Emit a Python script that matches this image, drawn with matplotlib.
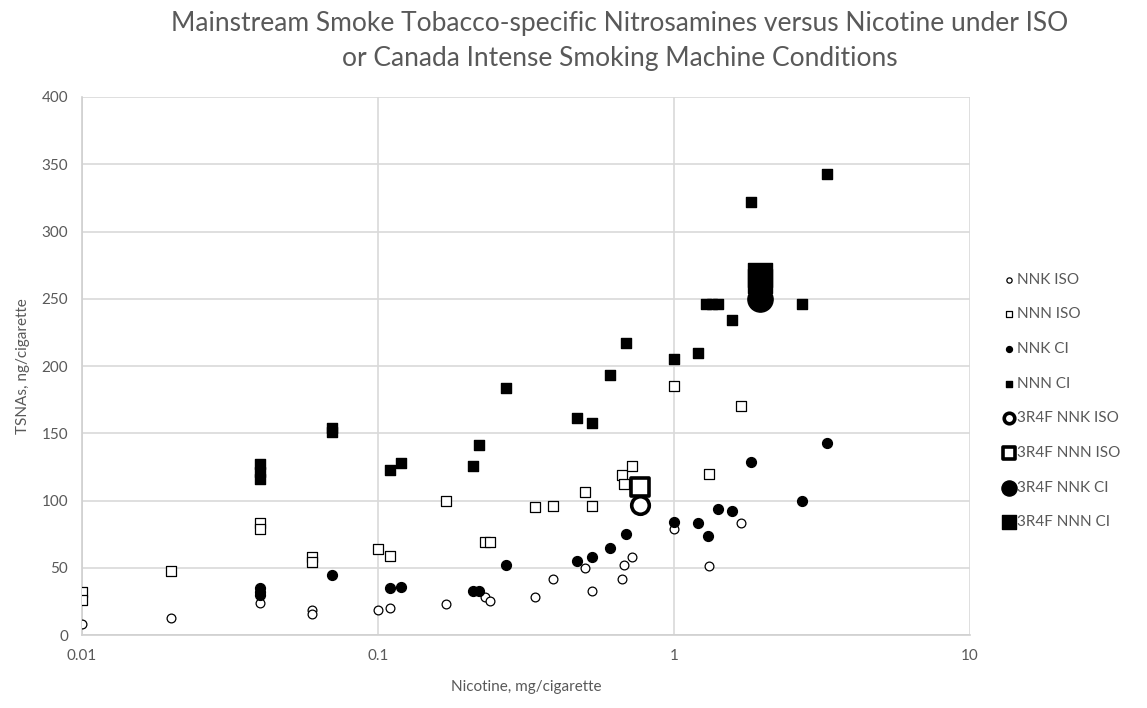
import matplotlib
matplotlib.use("Agg")
import matplotlib.pyplot as plt
from matplotlib.ticker import FixedLocator, FixedFormatter, NullLocator

plt.rcParams['font.family'] = ['Lato', 'DejaVu Sans']

# nicotine (mg/cig) and TSNA (ng/cig)
nnk_iso_x = [0.01, 0.02, 0.04, 0.06, 0.06, 0.1, 0.11, 0.17, 0.23, 0.24, 0.34, 0.39,
             0.5, 0.53, 0.67, 0.68, 0.72, 1.0, 1.31, 1.68]
nnk_iso_y = [8, 13, 24, 19, 16, 19, 20, 23, 28, 25, 28, 42, 50, 33, 42, 52, 58, 79, 51, 83]

nnn_iso_x = [0.01, 0.01, 0.02, 0.04, 0.04, 0.06, 0.06, 0.1, 0.11, 0.17, 0.23, 0.24,
             0.34, 0.39, 0.5, 0.53, 0.67, 0.68, 0.72, 1.0, 1.31, 1.68]
nnn_iso_y = [32, 26, 48, 83, 79, 58, 54, 64, 59, 100, 69, 69, 95, 96, 106, 96, 119,
             112, 126, 185, 120, 170]

nnk_ci_x = [0.04, 0.04, 0.04, 0.07, 0.11, 0.12, 0.21, 0.22, 0.27, 0.47, 0.53, 0.61,
            0.69, 1.0, 1.21, 1.3, 1.41, 1.57, 1.82, 2.7, 3.3]
nnk_ci_y = [35, 32, 30, 45, 35, 36, 33, 33, 52, 55, 58, 65, 75, 84, 83, 74, 94, 92,
            129, 100, 143]

nnn_ci_x = [0.04, 0.04, 0.04, 0.07, 0.07, 0.11, 0.12, 0.21, 0.22, 0.27, 0.47, 0.53,
            0.61, 0.69, 1.0, 1.21, 1.28, 1.35, 1.41, 1.57, 1.82, 2.7, 3.3]
nnn_ci_y = [127, 121, 116, 154, 151, 123, 128, 126, 141, 184, 161, 158, 193, 217, 205,
            210, 246, 246, 246, 234, 322, 246, 343]

# 3R4F reference cigarette
ref_nnk_iso_x, ref_nnk_iso_y = [0.77], [97]
ref_nnn_iso_x, ref_nnn_iso_y = [0.77], [110]
ref_nnk_ci_x, ref_nnk_ci_y = [1.95], [250]
ref_nnn_ci_x, ref_nnn_ci_y = [1.95, 1.95], [268, 263]

gray = '#595959'

fig = plt.figure(figsize=(11.47, 7.08), dpi=100)
ax = fig.add_axes([0.0715, 0.103, 0.774, 0.760])

ax.scatter(nnk_iso_x, nnk_iso_y, s=40, marker='o', facecolors='white',
           edgecolors='black', linewidths=0.9, label='NNK ISO', zorder=3)
ax.scatter(nnn_iso_x, nnn_iso_y, s=45, marker='s', facecolors='white',
           edgecolors='black', linewidths=0.9, label='NNN ISO', zorder=3)
ax.scatter(nnk_ci_x, nnk_ci_y, s=50, marker='o', color='black',
           label='NNK CI', zorder=3)
ax.scatter(nnn_ci_x, nnn_ci_y, s=62, marker='s', color='black',
           label='NNN CI', zorder=3)
ax.scatter(ref_nnk_iso_x, ref_nnk_iso_y, s=160, marker='o', facecolors='white',
           edgecolors='black', linewidths=2.6, label='3R4F NNK ISO', zorder=4)
ax.scatter(ref_nnn_iso_x, ref_nnn_iso_y, s=180, marker='s', facecolors='white',
           edgecolors='black', linewidths=2.6, label='3R4F NNN ISO', zorder=4)
ax.scatter(ref_nnk_ci_x, ref_nnk_ci_y, s=330, marker='o', color='black',
           label='3R4F NNK CI', zorder=4)
ax.scatter(ref_nnn_ci_x, ref_nnn_ci_y, s=280, marker='s', color='black',
           label='3R4F NNN CI', zorder=4)

ax.set_xscale('log')
ax.set_xlim(0.01, 10)
ax.set_ylim(0, 400)
ax.xaxis.set_major_locator(FixedLocator([0.01, 0.1, 1, 10]))
ax.xaxis.set_major_formatter(FixedFormatter(['0.01', '0.1', '1', '10']))
ax.xaxis.set_minor_locator(NullLocator())
ax.set_yticks(range(0, 401, 50))
ax.grid(True, color='#d9d9d9', linewidth=1.2, zorder=0)
ax.set_axisbelow(True)
for side in ['top', 'right']:
    ax.spines[side].set_visible(False)
for side in ['left', 'bottom']:
    ax.spines[side].set_color('#d0d0d0')
    ax.spines[side].set_linewidth(1.2)
ax.tick_params(length=0, labelsize=11, colors=gray, pad=10)

ax.set_xlabel('Nicotine, mg/cigarette', fontsize=11, color=gray, labelpad=12)
ax.set_ylabel('TSNAs, ng/cigarette', fontsize=11, color=gray, labelpad=8)
fig.text(0.54, 0.985,
         'Mainstream Smoke Tobacco-specific Nitrosamines versus Nicotine under ISO\n'
         'or Canada Intense Smoking Machine Conditions',
         fontsize=19, color=gray, ha='center', va='top', linespacing=1.5)

leg = ax.legend(loc='center left', bbox_to_anchor=(1.02, 0.435), frameon=False,
                fontsize=11, handletextpad=0.0, labelspacing=1.35,
                handlelength=1.0, markerscale=0.6)
for t in leg.get_texts():
    t.set_color(gray)

fig.savefig('out.png', dpi=100)
